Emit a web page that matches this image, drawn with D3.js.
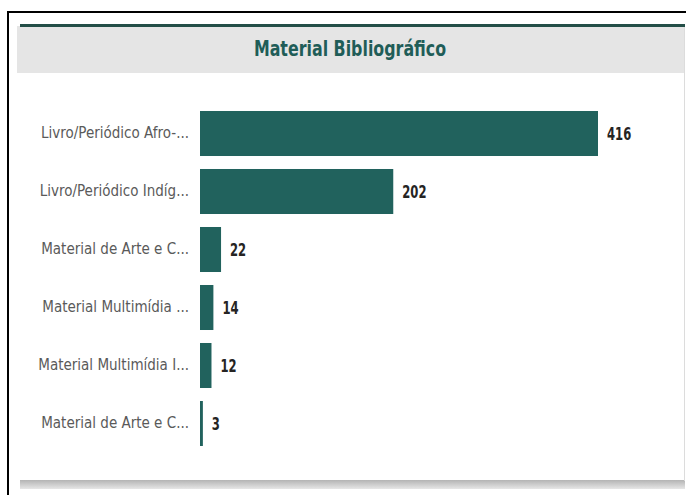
<!DOCTYPE html>
<html><head><meta charset="utf-8">
<script src="https://cdn.jsdelivr.net/npm/d3@7/dist/d3.min.js"></script>
<style>
html,body{margin:0;padding:0;background:#fff;}
svg{display:block;}
</style></head>
<body>
<svg id="chart" width="686" height="495"></svg>
<script>
const title = "Material Bibliográfico";
const categories = [
  "Livro/Periódico Afro-...",
  "Livro/Periódico Indíg...",
  "Material de Arte e C...",
  "Material Multimídia ...",
  "Material Multimídia I...",
  "Material de Arte e C..."
];
const values = [416, 202, 22, 14, 12, 3];

const svg = d3.select("#chart");
const W = 686, H = 495;
const condensed = "'DejaVu Sans Condensed','Liberation Sans Narrow',sans-serif";

// outer black frame
svg.append("line").attr("x1",7).attr("x2",W).attr("y1",12).attr("y2",12)
  .attr("stroke","#000").attr("stroke-width",2);
svg.append("line").attr("x1",8).attr("x2",8).attr("y1",11).attr("y2",H)
  .attr("stroke","#000").attr("stroke-width",2);

// bottom shadow
const defs = svg.append("defs");
const g1 = defs.append("linearGradient").attr("id","shadow").attr("x1",0).attr("x2",0).attr("y1",0).attr("y2",1);
g1.append("stop").attr("offset","0%").attr("stop-color","#b4b4b4");
g1.append("stop").attr("offset","100%").attr("stop-color","#e6e6e6");
svg.append("rect").attr("x",20).attr("y",480).attr("width",665).attr("height",9).attr("fill","url(#shadow)");

// card right edge
svg.append("line").attr("x1",684.5).attr("x2",684.5).attr("y1",26).attr("y2",481)
  .attr("stroke","#dcdcdc").attr("stroke-width",1);

// header
svg.append("rect").attr("x",17).attr("y",26).attr("width",667).attr("height",47).attr("fill","#e5e5e5");
svg.append("rect").attr("x",20).attr("y",24).attr("width",665).attr("height",3).attr("fill","#234e47");
svg.append("text").attr("transform","translate(350,56) scale(0.84,1)").attr("text-anchor","middle")
  .attr("font-family",condensed).attr("font-size",21).attr("font-weight","bold")
  .attr("fill","#1f5d58").text(title);

// scales
const idx = d3.range(categories.length);
const y = d3.scaleBand().domain(idx).range([104.5,452.5]).paddingInner(0.224).paddingOuter(0.112);
const x = d3.scaleLinear().domain([0, d3.max(values)]).range([200, 598]);

const g = svg.append("g");
g.selectAll("rect.bar").data(idx).enter().append("rect")
  .attr("class","bar")
  .attr("x", x(0))
  .attr("y", i => y(i))
  .attr("width", i => Math.max(1.5, x(values[i]) - x(0)))
  .attr("height", y.bandwidth())
  .attr("fill","#21625d");

g.selectAll("text.val").data(idx).enter().append("text")
  .attr("class","val")
  .attr("transform", i => `translate(${Math.max(x(values[i]), x(0)+1.5) + 9},${y(i) + y.bandwidth()/2}) scale(0.76,1)`)
  .attr("dy","0.36em")
  .attr("font-family",condensed).attr("font-size",17).attr("font-weight","bold")
  .attr("fill","#252423")
  .text(i => values[i]);

// category axis labels
const yAxis = d3.axisLeft(y).tickSize(0).tickPadding(11).tickFormat(i => categories[i]);
const ax = svg.append("g").attr("transform","translate(200,0)").call(yAxis);
ax.select(".domain").remove();
ax.selectAll("text").attr("font-family",condensed).attr("font-size",15).attr("fill","#5a5a5a");
</script>
</body></html>
